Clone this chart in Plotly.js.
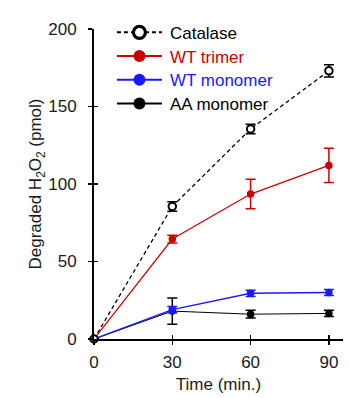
<!DOCTYPE html>
<html>
<head>
<meta charset="utf-8">
<script src="https://cdn.plot.ly/plotly-3.0.1.min.js"></script>
<style>html,body{margin:0;padding:0;background:#fff}#chart{width:350px;height:398px}</style>
</head>
<body>
<div id="chart"></div>
<script>
const times = [0, 30, 60, 90];
const seriesNames = ["Catalase", "WT trimer", "WT monomer", "AA monomer"];
const catalase = [0, 85.5, 135.5, 173];
const catalaseErr = [0, 3, 3, 4];
const wtTrimer = [0, 64.5, 93.5, 112];
const wtTrimerErr = [0, 2.5, 9.5, 11];
const wtMonomer = [0, 19, 29.5, 30];
const wtMonomerErr = [0, 2, 2, 2];
const aaMonomer = [0, 18, 16, 16.5];
const aaMonomerErr = [0, 8.5, 2.5, 2];
const xTicks = [0, 30, 60, 90];
const yTicks = [0, 50, 100, 150, 200];

const FONT = "Liberation Sans, Arial, sans-serif";
function tr(name, y, err, color, dash, open, lw) {
  return {
    x: times, y: y, name: name, type: "scatter", mode: "lines+markers",
    line: {color: color, width: lw, dash: dash},
    marker: {size: 7.5, color: open ? "#ffffff" : color, line: {color: color, width: open ? 2 : 0}},
    error_y: {type: "data", array: err, visible: true, color: color, thickness: 1.5, width: 5},
    cliponaxis: false
  };
}
const data = [
  tr(seriesNames[3], aaMonomer, aaMonomerErr, "#000000", "solid", false, 1),
  tr(seriesNames[2], wtMonomer, wtMonomerErr, "#1a1aff", "solid", false, 1.3),
  tr(seriesNames[1], wtTrimer, wtTrimerErr, "#cc0000", "solid", false, 1.2),
  tr(seriesNames[0], catalase, catalaseErr, "#000000", "4px,3px", true, 1.3),
  {x: [], y: [], xaxis: "x2", yaxis: "y2", showlegend: false, type: "scatter", hoverinfo: "skip"}
];
const legendColors = {"Catalase": "#000000", "WT trimer": "#cc0000", "WT monomer": "#1a1aff", "AA monomer": "#000000"};

const layout = {
  width: 350, height: 398,
  margin: {l: 94, r: 7, t: 29, b: 59},
  paper_bgcolor: "#ffffff", plot_bgcolor: "#ffffff",
  font: {family: FONT, size: 17, color: "#1a1a1a"},
  showlegend: true,
  legend: {x: 0.072, y: 1.046, xanchor: "left", yanchor: "top", traceorder: "reversed",
           bgcolor: "rgba(0,0,0,0)", font: {size: 17, family: FONT}},
  xaxis: {range: [0, 95.4], tickvals: xTicks, ticktext: xTicks.map(String), ticks: "outside",
          ticklen: 4, tickwidth: 1.5, tickcolor: "#000", showline: true, linecolor: "#000", linewidth: 2,
          showgrid: false, zeroline: false, ticklabelstandoff: 3,
          title: {text: "Time (min.)", font: {size: 17}, standoff: 7},
          tickfont: {size: 17}},
  yaxis: {range: [0, 200], tickvals: yTicks, ticktext: yTicks.map(String), ticks: "outside",
          ticklen: 4, tickwidth: 1.5, tickcolor: "#000", showline: true, linecolor: "#000", linewidth: 2,
          showgrid: false, zeroline: false, ticklabelstandoff: 8,
          title: {text: "Degraded H<sub>2</sub>O<sub>2</sub> (pmol)", font: {size: 17}, standoff: 2},
          tickfont: {size: 17}},
  xaxis2: {overlaying: "x", range: [0, 95.4], tickvals: xTicks, ticks: "inside", ticklen: 4, tickwidth: 1.5,
           tickcolor: "#000", showticklabels: false, showline: false, showgrid: false, zeroline: false},
  yaxis2: {overlaying: "y", range: [0, 200], tickvals: yTicks, ticks: "inside", ticklen: 4, tickwidth: 1.5,
           tickcolor: "#000", showticklabels: false, showline: false, showgrid: false, zeroline: false}
};
Plotly.newPlot("chart", data, layout, {staticPlot: true, displayModeBar: false}).then(function () {
  document.querySelectorAll(".legend [clip-path]").forEach(function (e) { e.removeAttribute("clip-path"); });
  const items = Array.from(document.querySelectorAll(".legend .traces"));
  let y0 = null;
  items.forEach(function (g, i) {
    const m = /translate\(\s*([-\d.]+)[ ,]+([-\d.]+)\s*\)/.exec(g.getAttribute("transform") || "");
    if (m) {
      if (y0 === null) y0 = parseFloat(m[2]);
      g.setAttribute("transform", "translate(" + m[1] + "," + (y0 + i * 23.7) + ")");
    }
    const t = g.querySelector("text.legendtext");
    if (t && legendColors[t.textContent]) t.style.fill = legendColors[t.textContent];
    if (t) t.setAttribute("transform", "translate(18,0)");
    g.querySelectorAll(".legendlines path").forEach(function (p) {
      p.setAttribute("d", "M5,0h45");
      p.style.strokeWidth = "2px";
    });
    g.querySelectorAll(".legendpoints path").forEach(function (p) {
      p.setAttribute("transform", "translate(27.5,0) scale(1.6)");
    });
  });
});
</script>
</body>
</html>
